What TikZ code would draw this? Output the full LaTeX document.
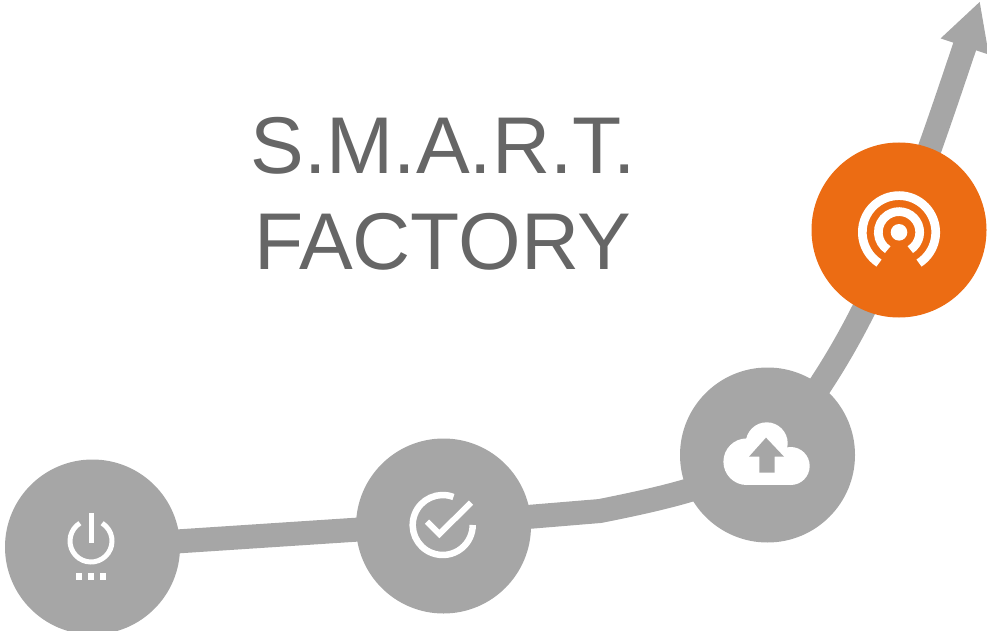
\documentclass[tikz,border=0pt]{standalone}
\usepackage{fontspec}
\setmainfont{Liberation Sans}
\usetikzlibrary{arrows.meta,backgrounds}

\definecolor{stepgray}{HTML}{A6A6A6}
\definecolor{steporange}{HTML}{EC6C13}
\definecolor{titlegray}{HTML}{666666}

\tikzset{
  stepdot/.style={circle,fill=stepgray,minimum size=175pt,inner sep=0pt},
  trunk/.style={line width=24pt,stepgray,-{Triangle[length=48pt,width=47pt]}},
  icon/.style={white,line width=#1}
}

\begin{document}
\begin{tikzpicture}[x=1pt,y=-1pt]

\useasboundingbox (0,0) rectangle (987,631);

\node[stepdot] (power) at (92.5,547) {};
\node[stepdot] (check) at (443.5,526) {};
\node[stepdot] (cloud) at (767.5,455) {};
\node[stepdot,fill=steporange] (signal) at (899,230) {};

\coordinate (knee) at (443,524);
\coordinate (bend) at (600,511);
\coordinate (tip) at (980,1);

\node[text=titlegray,align=center,font=\fontsize{80.5}{96}\selectfont] (title) at (443,193.5)
{S.M.A.R.T.\\FACTORY};

%% curve behind the circles
\begin{scope}[on background layer]
\draw[trunk] (power.center) -- (knee) -- (bend)
.. controls (680,495) and (725,483) .. (cloud.center)
.. controls (815,400) and (860,330) .. (signal.center)
.. controls (925,165) and (945,105) .. (tip);
\end{scope}

%% power
\draw[icon=5pt] (91,541) ++(-122:21) arc[start angle=-122,end angle=-418,radius=21];
\draw[icon=5pt] (91,513) -- (91,543);
\foreach \x in {79,91,103}
  \fill[white] (\x-3,573) rectangle (\x+3,580);

%% check
\draw[icon=6.5pt] (442.7,525) ++(-69:30) arc[start angle=-69,end angle=-360,radius=30];
\draw[icon=6pt] (427,521.7) -- (439.3,534) -- (471,502.7);

%% cloud
\fill[white] (746.7,461.7) circle (23.3);
\fill[white] (766.7,443.3) circle (21);
\fill[white] (790.7,466) circle (19);
\fill[white] (746.7,461.7) rectangle (790.7,485);
\fill[stepgray] (766,437.7) -- (784,456.7) -- (774.7,456.7) -- (774.7,472.7)
-- (759.3,472.7) -- (759.3,456.7) -- (749,456.7) -- cycle;

%% signal
\fill[white] (899,232.3) circle (8.3);
\draw[icon=8.7pt] (899,232.3) ++(57:20.7) arc[start angle=57,end angle=-237,radius=20.7];
\draw[icon=8.7pt] (899,232.3) ++(57:36.7) arc[start angle=57,end angle=-237,radius=36.7];

\end{tikzpicture}
\end{document}
